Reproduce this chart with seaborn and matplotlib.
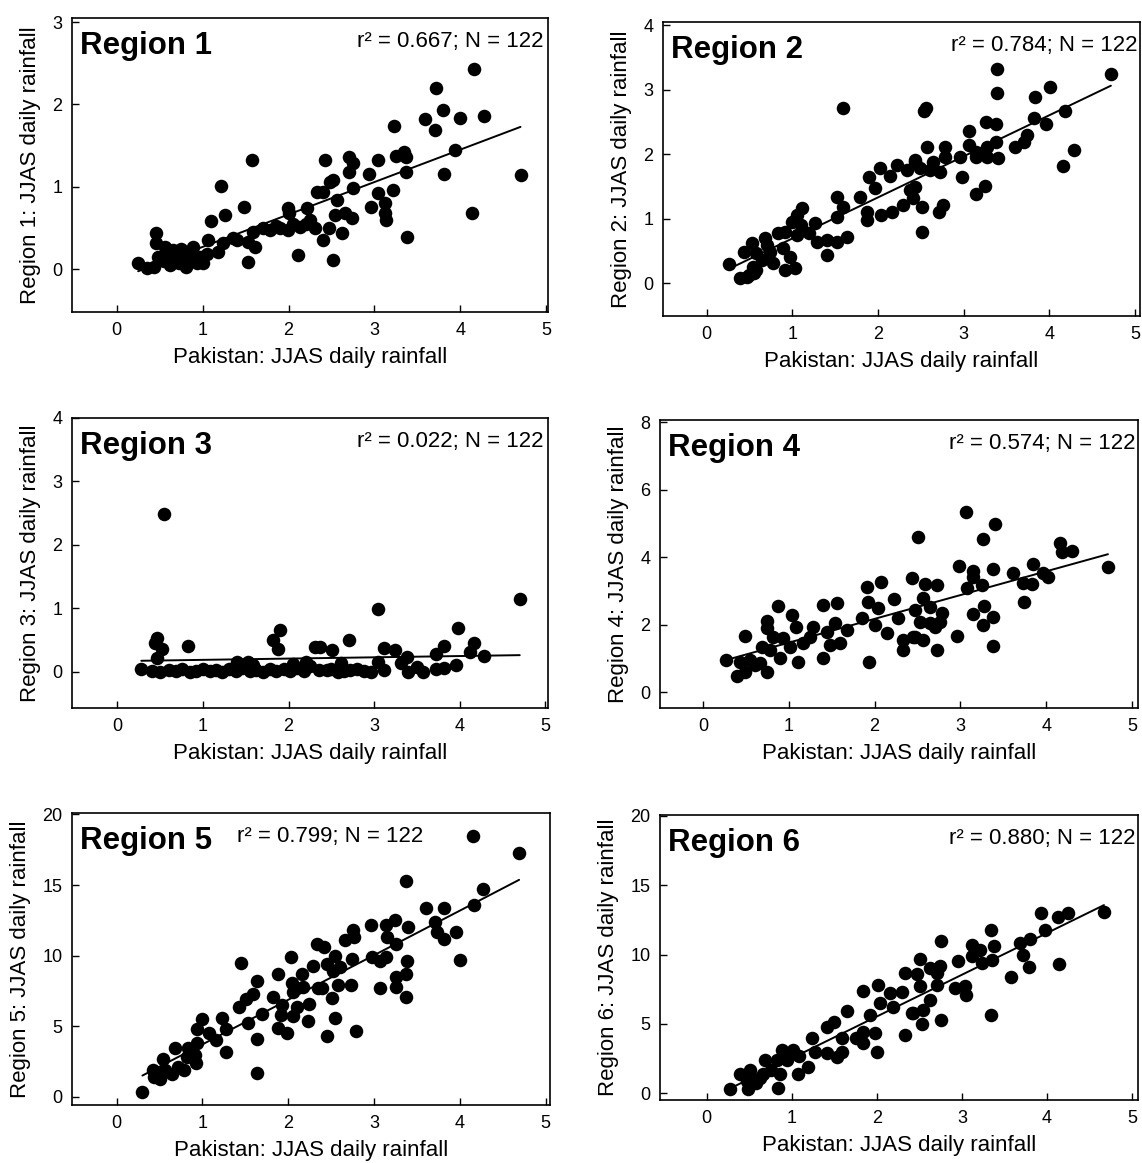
import numpy as np
import pandas as pd
import seaborn as sns
import matplotlib
matplotlib.use("Agg")
import matplotlib.pyplot as plt

sns.set_style("ticks")
plt.rcParams['font.family'] = ['Liberation Sans', 'DejaVu Sans']
plt.rcParams['text.color'] = 'black'
plt.rcParams['axes.labelcolor'] = 'black'
plt.rcParams['xtick.color'] = 'black'
plt.rcParams['ytick.color'] = 'black'

# ---------------- data ----------------
x1 = [4.16, 3.72, 3.80, 3.59, 3.99, 4.27, 3.71, 3.23, 3.94, 4.70, 3.81, 4.14, 3.38, 3.34, 3.25, 3.37, 3.37,
      3.22, 3.04, 3.12, 3.12, 3.13, 2.96, 2.94, 3.04, 2.70, 2.75, 2.70, 2.42, 2.52, 2.75, 2.40, 2.56, 2.54,
      2.66, 2.74, 2.62, 2.40, 2.47, 2.52,
      1.58, 1.21, 1.48, 1.26, 1.10, 2.33, 2.48, 1.99, 2.21, 2.11, 2.31, 1.90, 1.78, 2.13, 1.99, 1.59, 1.53,
      1.53, 1.61, 1.40, 1.24, 1.18, 1.06, 1.05, 0.97, 0.89, 0.77, 0.73, 0.81, 0.70, 0.62, 0.56, 0.46, 0.46,
      0.48, 0.44, 0.35, 0.25, 0.93, 1.00, 0.66, 0.85,
      2.05, 1.85, 2.25, 1.70, 0.55, 0.75, 0.60, 1.35, 2.00, 2.20]
y1 = [2.43, 2.20, 1.93, 1.82, 1.83, 1.86, 1.69, 1.74, 1.45, 1.14, 1.16, 0.68, 0.39, 1.42, 1.37, 1.36, 1.18,
      0.96, 0.92, 0.80, 0.68, 0.60, 0.75, 1.15, 1.33, 1.36, 1.29, 1.18, 1.32, 1.08, 0.98, 0.94, 0.84, 0.66,
      0.68, 0.62, 0.44, 0.35, 0.50, 0.11,
      1.32, 1.01, 0.75, 0.66, 0.58, 0.94, 1.06, 0.74, 0.74, 0.17, 0.50, 0.50, 0.47, 0.51, 0.47, 0.45, 0.33,
      0.09, 0.27, 0.35, 0.32, 0.21, 0.35, 0.19, 0.15, 0.27, 0.19, 0.07, 0.03, 0.13, 0.05, 0.27, 0.44, 0.32,
      0.15, 0.03, 0.02, 0.07, 0.07, 0.07, 0.23, 0.15,
      0.55, 0.52, 0.60, 0.50, 0.10, 0.25, 0.18, 0.38, 0.68, 0.55]

x2 = [3.39, 3.39, 4.72, 4.01, 3.83, 4.18, 3.82, 3.96, 3.74, 3.71, 3.60, 4.29, 4.16, 2.54, 2.56, 3.26, 3.38,
      3.06, 3.06, 3.15, 3.27, 3.38, 3.40, 3.27, 3.15, 2.96, 2.78, 2.57, 2.78, 2.64, 2.43, 2.72, 2.61, 2.49,
      2.98, 3.25, 3.14, 2.43, 2.41, 2.52, 2.76, 2.71, 2.52,
      1.59, 2.43, 2.22, 2.02, 1.90, 1.96, 2.14, 2.34, 2.37, 2.29, 2.16, 2.04, 1.87, 1.87, 1.79, 1.52, 1.59,
      1.52, 1.64, 1.52, 1.40, 1.40, 1.29, 1.20, 1.26, 1.11, 1.05, 1.06, 0.91, 0.83, 0.68, 0.53, 0.44, 0.58,
      0.74, 0.89, 0.97, 0.91, 1.03, 0.77, 0.65, 0.58, 0.47, 0.39, 0.26, 0.54, 0.70, 0.50, 0.55, 1.00, 1.10]
y2 = [3.32, 2.95, 3.24, 3.04, 2.88, 2.67, 2.56, 2.47, 2.29, 2.19, 2.11, 2.06, 1.81, 2.67, 2.72, 2.50, 2.47,
      2.36, 2.14, 2.03, 2.11, 2.19, 1.94, 1.95, 1.95, 1.95, 2.11, 2.11, 1.95, 1.88, 1.88, 1.72, 1.75, 1.78,
      1.64, 1.50, 1.38, 1.49, 1.32, 1.18, 1.21, 1.10, 0.79,
      2.71, 1.91, 1.83, 1.78, 1.64, 1.47, 1.66, 1.75, 1.44, 1.21, 1.10, 1.05, 0.98, 1.10, 1.33, 1.33, 1.18,
      1.02, 0.71, 0.64, 0.67, 0.43, 0.64, 0.78, 0.93, 1.16, 1.05, 0.74, 0.79, 0.78, 0.70, 0.62, 0.48, 0.47,
      0.48, 0.54, 0.40, 0.20, 0.23, 0.31, 0.36, 0.20, 0.09, 0.08, 0.29, 0.25, 0.59, 0.12, 0.15, 0.95, 0.90]

x3 = [0.55, 0.46, 0.44, 0.52, 0.46, 0.83, 1.90, 1.82, 1.88, 2.31, 1.40, 1.52, 3.04, 4.70, 3.98, 2.71, 2.51,
      2.37, 3.11, 3.24, 3.38, 3.82, 3.72, 4.16, 4.12, 4.28, 3.05, 2.96, 3.11, 3.39, 3.57, 3.72, 3.81, 3.95,
      3.31, 2.61, 2.72, 2.45, 2.58,
      0.28, 0.40, 0.50, 0.60, 0.68, 0.75, 0.85, 0.92, 1.00, 1.08, 1.15, 1.22, 1.30, 1.38, 1.45, 1.55, 1.62,
      1.70, 1.78, 1.85, 1.95, 2.02, 2.10, 2.18, 2.25, 2.35, 2.50, 2.65, 2.80, 2.88, 1.58, 2.05, 2.20, 3.50]
y3 = [2.49, 0.54, 0.46, 0.36, 0.22, 0.41, 0.66, 0.50, 0.36, 0.39, 0.16, 0.16, 0.99, 1.15, 0.69, 0.50, 0.35,
      0.39, 0.38, 0.35, 0.24, 0.41, 0.28, 0.46, 0.32, 0.25, 0.16, 0.00, 0.03, 0.00, 0.00, 0.05, 0.06, 0.11,
      0.14, 0.14, 0.03, 0.03, 0.00,
      0.04, 0.02, 0.00, 0.03, 0.01, 0.04, 0.00, 0.02, 0.05, 0.01, 0.03, 0.00, 0.04, 0.02, 0.06, 0.01, 0.03,
      0.00, 0.05, 0.02, 0.04, 0.01, 0.06, 0.02, 0.09, 0.03, 0.05, 0.02, 0.04, 0.01, 0.10, 0.12, 0.15, 0.07]

x4 = [2.51, 2.44, 2.07, 1.91, 2.23, 1.92, 2.04, 2.00, 2.14, 2.27, 2.33, 2.33, 2.47, 1.93, 1.85, 1.56, 1.40,
      1.54, 1.68, 1.60, 1.48, 1.40, 1.45, 1.28, 1.25, 1.17, 1.04, 1.08, 0.87, 0.75, 0.75, 0.82, 0.93, 1.01,
      1.11, 0.90, 0.69, 0.78, 0.49, 0.27, 0.43, 0.55, 0.66, 0.75, 0.40, 0.49, 0.61,
      3.07, 3.40, 3.26, 4.16, 4.18, 4.30, 4.72, 3.85, 3.96, 4.02, 3.61, 3.73, 3.83, 3.74, 3.38, 2.98, 3.15,
      3.15, 3.25, 3.08, 2.73, 2.59, 2.56, 2.47, 2.65, 2.79, 2.76, 2.65, 2.53, 2.70, 2.45, 2.56, 2.73, 2.96,
      3.28, 3.15, 3.38, 3.26, 3.38]
y4 = [4.59, 3.38, 3.26, 3.11, 2.76, 2.67, 2.49, 1.99, 1.75, 2.19, 1.54, 1.24, 1.63, 0.89, 2.19, 2.64, 2.58,
      2.04, 1.84, 1.45, 1.39, 1.01, 1.78, 1.93, 1.63, 1.45, 2.28, 1.93, 2.55, 2.10, 1.90, 1.63, 1.60, 1.33,
      0.89, 1.01, 1.33, 1.24, 1.66, 0.95, 0.89, 0.95, 0.86, 0.59, 0.47, 0.59, 0.80,
      5.33, 4.98, 4.53, 4.41, 4.15, 4.18, 3.70, 3.79, 3.53, 3.41, 3.53, 3.23, 3.20, 2.67, 3.64, 3.73, 3.59,
      3.41, 3.17, 3.08, 3.17, 3.20, 2.79, 2.43, 2.52, 2.34, 2.07, 2.04, 2.07, 1.93, 1.63, 1.54, 1.24, 1.66,
      2.55, 2.31, 2.22, 1.99, 1.36]

x5 = [4.69, 4.15, 3.37, 4.27, 4.16, 3.60, 3.81, 3.71, 3.73, 3.82, 3.95, 4.00, 3.24, 3.14, 3.15, 3.39, 3.26,
      2.96, 2.76, 2.77, 2.66, 2.42, 2.54, 2.74, 2.45, 2.60, 2.52, 2.98, 3.14, 3.07, 3.38, 3.37, 3.25, 3.26,
      3.37, 3.07, 2.73, 2.58, 2.39, 2.51, 2.55, 2.45, 2.79,
      2.34, 2.03, 2.29, 1.45, 1.88, 2.16, 2.04, 2.17, 2.05, 1.64, 2.35, 1.59, 1.51, 1.43, 1.82, 1.93, 2.24,
      2.10, 1.92, 2.05, 2.23, 1.69, 1.53, 1.88, 1.98, 1.63, 1.63, 1.23, 1.28, 1.16, 1.28, 0.99, 0.94, 1.08,
      0.94, 0.83, 0.91, 0.93, 0.82, 0.79, 0.68, 0.71, 0.64, 0.54, 0.56, 0.50, 0.42, 0.44, 0.30]
y5 = [17.3, 18.5, 15.3, 14.75, 13.6, 13.4, 13.4, 12.4, 11.7, 11.2, 11.7, 9.7, 12.5, 12.2, 11.35, 12.0, 10.8,
      12.2, 11.8, 11.35, 11.1, 10.6, 10.0, 9.8, 9.4, 9.2, 8.9, 9.9, 9.9, 9.6, 9.6, 8.7, 8.5, 7.8,
      7.1, 7.7, 7.9, 7.9, 7.7, 7.0, 5.6, 4.3, 4.7,
      10.8, 9.9, 9.3, 9.5, 8.7, 8.7, 8.1, 7.8, 7.4, 8.2, 7.7, 7.3, 6.9, 6.4, 7.1, 6.5, 6.6,
      6.4, 5.8, 5.7, 5.4, 5.9, 5.2, 4.9, 4.5, 4.1, 1.7, 5.6, 4.8, 4.0, 3.2, 5.5, 4.8, 4.5,
      3.8, 3.5, 3.0, 2.4, 2.8, 1.9, 3.5, 2.1, 1.6, 2.7, 1.9, 1.3, 1.9, 1.4, 0.35]

x6 = [4.67, 4.25, 4.13, 3.93, 3.98, 3.80, 3.68, 3.72, 3.79, 4.14, 3.58, 3.34, 3.38, 3.12, 3.21, 3.12, 3.24,
      3.35, 2.95, 2.75, 2.74, 2.51, 2.62, 2.47, 2.71, 2.71, 2.51, 2.92, 3.04, 3.05, 2.62, 2.54, 2.42, 2.75,
      2.53, 3.34,
      2.33, 2.01, 1.84, 2.15, 2.29, 2.04, 2.19, 2.41, 1.92, 1.65, 1.84, 1.98, 2.33, 1.76, 1.84, 2.00, 1.41,
      1.49, 1.59, 1.24, 1.27, 1.41, 1.53, 1.59, 1.09, 1.19, 1.07, 1.01, 0.89, 0.94, 0.82, 0.68, 0.76, 0.86,
      0.66, 0.84, 0.51, 0.39, 0.47, 0.58, 0.48, 0.27, 0.62]
y6 = [13.1, 13.0, 12.7, 13.0, 11.8, 11.1, 10.8, 10.0, 9.1, 9.3, 8.4, 11.8, 10.6, 10.7, 10.3, 9.9, 9.4,
      9.6, 9.5, 11.0, 9.2, 9.7, 9.0, 8.6, 8.7, 7.8, 7.7, 7.6, 7.7, 7.1, 6.7, 6.0, 5.8, 5.3,
      5.0, 5.6,
      8.7, 7.8, 7.4, 7.2, 7.3, 6.5, 6.2, 5.8, 5.6, 5.9, 4.4, 4.3, 4.2, 4.0, 3.6, 3.0, 4.8,
      5.1, 4.0, 4.0, 3.0, 2.9, 2.6, 3.0, 2.7, 1.9, 1.4, 3.1, 3.1, 2.4, 2.4, 2.4, 1.7, 1.4,
      1.4, 0.4, 1.7, 1.4, 0.9, 0.7, 0.3, 0.3, 1.1]

region_names = ["Region 1", "Region 2", "Region 3", "Region 4", "Region 5", "Region 6"]
r2_values = ["0.667", "0.784", "0.022", "0.574", "0.799", "0.880"]
n_values = ["122"] * 6
xs = [x1, x2, x3, x4, x5, x6]
ys = [y1, y2, y3, y4, y5, y6]
x_label = "Pakistan: JJAS daily rainfall"
x_ticks = [0, 1, 2, 3, 4, 5]
y_ticks = [[0, 1, 2, 3], [0, 1, 2, 3, 4], [0, 1, 2, 3, 4], [0, 2, 4, 6, 8],
           [0, 5, 10, 15, 20], [0, 5, 10, 15, 20]]

# ---------------- layout ----------------
W, H = 1142, 1163
fig = plt.figure(figsize=(W / 100, H / 100), dpi=100)

# axes boxes in pixels: left, top, right, bottom
boxes = [(72, 18, 548, 312), (663, 22, 1140, 316),
         (72, 418, 548, 708), (660, 420, 1138, 708),
         (72, 813, 550, 1105), (660, 815, 1138, 1100)]
xlims = [(-0.52, 5.02), (-0.51, 5.06), (-0.53, 5.03), (-0.50, 5.07), (-0.52, 5.05), (-0.55, 5.07)]
ylims = [(-0.52, 3.05), (-0.51, 4.05), (-0.57, 4.0), (-0.47, 8.06), (-0.57, 20.1), (-0.50, 20.07)]
r2_pos = [(0.99, 'right'), (0.995, 'right'), (0.99, 'right'), (0.995, 'right'), (0.345, 'left'), (0.995, 'right')]

for i in range(6):
    l, t, r, b = boxes[i]
    ax = fig.add_axes([l / W, (H - b) / H, (r - l) / W, (b - t) / H])
    df = pd.DataFrame({"x": xs[i], "y": ys[i]})
    sns.regplot(data=df, x="x", y="y", ax=ax, ci=None, truncate=True,
                scatter_kws=dict(s=95, color="black", linewidths=0, alpha=1),
                line_kws=dict(color="black", lw=1.4))
    ax.set_xlim(*xlims[i])
    ax.set_ylim(*ylims[i])
    ax.set_xticks(x_ticks)
    ax.set_yticks(y_ticks[i])
    ax.tick_params(direction="in", length=5, width=1, labelsize=13, pad=7, colors="black")
    for s in ax.spines.values():
        s.set_visible(True)
        s.set_linewidth(1.2)
        s.set_color("black")
    ax.set_xlabel(x_label, fontsize=16, labelpad=6, color="black")
    ax.set_ylabel(f"{region_names[i]}: JJAS daily rainfall", fontsize=16, labelpad=8, color="black")
    ax.text(0.017, 0.955, region_names[i], transform=ax.transAxes, ha="left", va="top",
            fontsize=22.5, fontweight="bold", color="black")
    xp, ha = r2_pos[i]
    ax.text(xp, 0.955, f"r\u00b2 = {r2_values[i]}; N = {n_values[i]}", transform=ax.transAxes,
            ha=ha, va="top", fontsize=16, color="black")

fig.savefig("out.png", dpi=100)
